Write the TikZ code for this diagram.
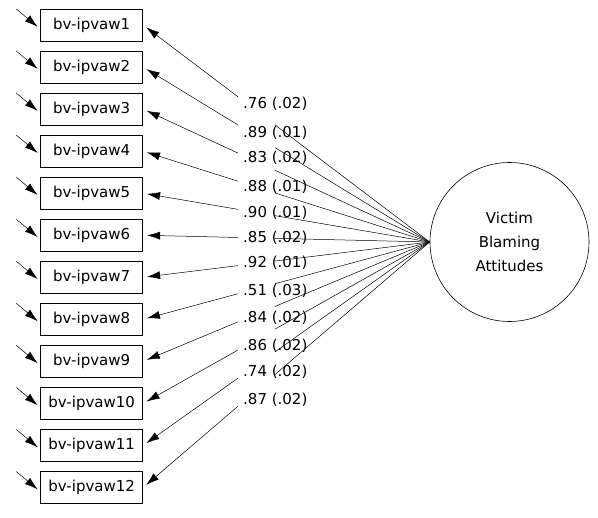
\documentclass[tikz,border=0pt]{standalone}
\usepackage{fontspec}
\setmainfont{DejaVu Sans}
\usetikzlibrary{arrows.meta,calc}
\begin{document}
\begin{tikzpicture}[x=1pt,y=-1pt,
  obs/.style={draw, line width=0.8pt, minimum width=102pt, minimum height=32pt, inner sep=0pt, font=\fontsize{15}{17}\selectfont},
  lat/.style={draw, circle, line width=0.6pt, minimum size=159pt, inner sep=0pt, align=center, font=\fontsize{15}{24}\selectfont},
  arr/.style={-{Latex[length=13pt,width=8pt]}, line width=0.5pt},
  ln/.style={line width=0.5pt},
  lab/.style={anchor=west, inner sep=0pt, font=\fontsize{15}{17}\selectfont}]
\useasboundingbox (0,0) rectangle (598,518);
\node[lat] (f) at (509.5,242) {Victim\\Blaming\\Attitudes};
\coordinate (cw) at (f.west);
\foreach \i in {1,...,12}{
  \pgfmathsetmacro{\yy}{25+42.05*(\i-1)}
  \node[obs] (b\i) at (91.7,\yy) {bv-ipvaw\i};
  \coordinate (e\i) at ($(b\i.west)+(-24,-16)$);
  \coordinate (t\i) at ($(b\i.west)+(0,4)$);
  \draw[arr, shorten >=3.5pt] (e\i) -- (t\i);
  \draw[arr, shorten >=4pt] ($(b\i.east)!0.331!(cw)$) -- (b\i.east);
  \draw[ln] ($(b\i.east)!0.46!(cw)$) -- (cw);
}
\foreach \t/\y [count=\k] in {.76 (.02)/104, .89 (.01)/132.7, .83 (.02)/158, .88 (.01)/186.7, .90 (.01)/212.7, .85 (.02)/238, .92 (.01)/263, .51 (.03)/290.7, .84 (.02)/318, .86 (.02)/346, .74 (.02)/371.7, .87 (.02)/400}{
  \node[lab] (l\k) at (243,\y) {\t};
}
\end{tikzpicture}
\end{document}
